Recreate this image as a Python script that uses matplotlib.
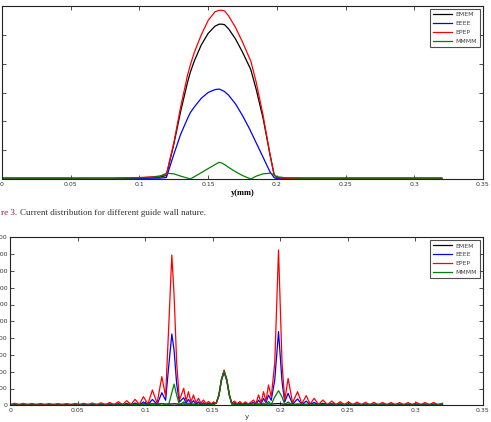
import matplotlib
matplotlib.use("Agg")
import matplotlib.pyplot as plt

# ---- painel de cima: distribuicao de corrente (y em mm)
top_y = [0.000, 0.020, 0.040, 0.060, 0.080, 0.100, 0.110, 0.115, 0.1196, 0.125,
         0.130, 0.135, 0.137, 0.140, 0.145, 0.150, 0.155, 0.158, 0.160, 0.162,
         0.165, 0.170, 0.175, 0.180, 0.181, 0.185, 0.190, 0.195, 0.198, 0.200,
         0.205, 0.210, 0.220, 0.240, 0.260, 0.280, 0.300, 0.320]
top_emem = [0.02, 0.02, 0.02, 0.02, 0.02, 0.03, 0.05, 0.07, 0.12, 1.2,
            2.35, 3.35, 3.7, 4.1, 4.65, 5.05, 5.3, 5.37, 5.37, 5.35,
            5.2, 4.85, 4.4, 3.9, 3.8, 3.1, 2.1, 0.85, 0.15, 0.04,
            0.03, 0.03, 0.03, 0.03, 0.03, 0.03, 0.03, 0.03]
top_eeee = [0.01, 0.01, 0.01, 0.01, 0.01, 0.02, 0.03, 0.03, 0.05, 0.85,
            1.55, 2.1, 2.3, 2.5, 2.8, 3.0, 3.1, 3.12, 3.08, 3.03,
            2.9, 2.6, 2.2, 1.75, 1.65, 1.25, 0.75, 0.25, 0.05, 0.01,
            0.01, 0.01, 0.01, 0.01, 0.01, 0.01, 0.01, 0.01]
top_epep = [0.035, 0.035, 0.035, 0.03, 0.03, 0.05, 0.08, 0.1, 0.15, 1.25,
            2.5, 3.6, 3.95, 4.4, 5.0, 5.5, 5.8, 5.85, 5.85, 5.83,
            5.65, 5.25, 4.75, 4.2, 4.1, 3.35, 2.2, 0.85, 0.15, 0.05,
            0.03, 0.02, 0.02, 0.02, 0.02, 0.02, 0.02, 0.02]
top_mmmm = [0.03, 0.03, 0.03, 0.03, 0.03, 0.04, 0.06, 0.1, 0.2, 0.18,
            0.1, 0.03, 0.0, 0.08, 0.22, 0.36, 0.5, 0.58, 0.55, 0.5,
            0.4, 0.25, 0.12, 0.02, 0.0, 0.1, 0.18, 0.2, 0.15, 0.08,
            0.05, 0.04, 0.03, 0.03, 0.03, 0.03, 0.03, 0.03]

# ---- painel de baixo: oscilacoes
bot_y = [0.0000, 0.0032, 0.0064, 0.0096, 0.0128, 0.0160, 0.0192, 0.0224, 0.0256, 0.0288,
         0.0320, 0.0352, 0.0384, 0.0416, 0.0448, 0.0480, 0.0512, 0.0544, 0.0576, 0.0608,
         0.0640, 0.0672, 0.0704, 0.0736, 0.0768, 0.0800,
         0.0832, 0.0862, 0.0893, 0.0924, 0.0955, 0.0986, 0.1019, 0.1052, 0.1087, 0.1122,
         0.1150, 0.1172,
         0.1196, 0.1213, 0.1232, 0.1252, 0.1284, 0.1302, 0.1319, 0.1338, 0.1356, 0.1375,
         0.1393, 0.1412, 0.1430, 0.1450, 0.1468, 0.1487, 0.1505, 0.1525, 0.1545, 0.1563,
         0.1583, 0.1603, 0.1622, 0.1640, 0.1660, 0.1680, 0.1700, 0.1720, 0.1740,
         0.1763, 0.1800, 0.1819, 0.1838, 0.1857, 0.1875, 0.1893, 0.1912, 0.1932, 0.1958,
         0.1986, 0.2012, 0.2032, 0.2057, 0.2090, 0.2127, 0.2159, 0.2191, 0.2220, 0.2250,
         0.2282, 0.2315, 0.2348, 0.2381, 0.2412, 0.2443, 0.2474, 0.2504,
         0.2536, 0.2567, 0.2599, 0.2630, 0.2662, 0.2693, 0.2725, 0.2756, 0.2788, 0.2819,
         0.2851, 0.2882, 0.2914, 0.2945, 0.2977, 0.3008, 0.3040, 0.3071, 0.3103, 0.3134,
         0.3166, 0.3200]
bot_emem = [12, 13, 12, 13, 12, 13, 12, 13, 12, 13, 12, 13, 12, 13, 12, 13, 12, 13, 12, 13,
            12, 13, 12, 13, 12, 14,
            12, 14, 12, 15, 12, 16, 12, 18, 13, 20, 14, 16,
            15, 18, 16, 12, 16, 12, 15, 12, 14, 12, 14, 12, 13, 12, 13, 12, 14, 25, 125, 305,
            410, 305, 125, 15, 13, 12, 13, 12, 13,
            12, 13, 12, 14, 12, 15, 12, 16, 13, 18, 20, 16, 12, 14, 12, 13, 12, 13, 12, 13,
            12, 13, 12, 13, 12, 13, 12, 13,
            12, 13, 12, 13, 12, 13, 12, 13, 12, 13, 12, 13, 12, 13, 12, 13, 12, 13, 12, 13,
            12, 12]
bot_eeee = [2, 9, 2, 8, 2, 8, 2, 7, 2, 7, 2, 7, 2, 8, 2, 8, 2, 9, 2, 10,
            3, 12, 3, 14, 3, 18,
            3, 22, 3, 28, 4, 40, 6, 70, 10, 150, 60, 450,
            849, 650, 250, 40, 90, 25, 70, 20, 55, 15, 40, 12, 30, 10, 25, 10, 22, 25, 115, 290,
            395, 290, 115, 20, 30, 10, 25, 10, 25,
            10, 35, 12, 60, 20, 80, 30, 120, 60, 300, 877, 280, 40, 143, 15, 75, 10, 50, 8, 35,
            6, 25, 5, 20, 5, 17, 5, 15,
            5, 14, 5, 13, 5, 13, 5, 12, 5, 12, 5, 12, 5, 12, 5, 12, 5, 12, 5, 12,
            5, 8]
bot_epep = [4, 24, 5, 23, 5, 22, 4, 21, 4, 20, 4, 20, 4, 21, 4, 22, 5, 24, 5, 27,
            6, 30, 7, 34, 8, 43,
            9, 55, 10, 71, 11, 103, 14, 182, 25, 341, 110, 900,
            1789, 1300, 500, 60, 202, 50, 162, 40, 123, 30, 83, 25, 63, 20, 45, 18, 38, 25, 120, 300,
            420, 300, 120, 25, 50, 18, 45, 15, 40,
            15, 63, 20, 124, 30, 162, 50, 242, 100, 500, 1849, 500, 60, 320, 30, 162, 20, 115, 15, 83,
            10, 63, 8, 51, 8, 43, 7, 42,
            7, 38, 7, 36, 6, 35, 6, 34, 6, 34, 6, 33, 6, 33, 6, 34, 6, 34, 6, 34,
            6, 25]
bot_mmmm = [1, 3, 1, 3, 1, 3, 1, 2, 1, 2, 1, 2, 1, 2, 1, 2, 1, 3, 1, 3,
            1, 3, 1, 4, 1, 5,
            1, 6, 1, 8, 2, 10, 2, 15, 3, 20, 8, 5,
            150, 253, 120, 5, 40, 5, 25, 3, 15, 3, 10, 3, 8, 3, 8, 3, 10, 25, 130, 310,
            400, 310, 130, 15, 10, 3, 8, 3, 8,
            3, 10, 3, 15, 3, 25, 5, 45, 10, 100, 174, 100, 10, 40, 3, 15, 2, 8, 2, 6,
            2, 5, 2, 4, 2, 4, 2, 4,
            2, 4, 2, 4, 2, 4, 2, 4, 2, 4, 2, 4, 2, 4, 2, 4, 2, 4, 2, 4,
            2, 3]

NOMES = ["EMEM", "EEEE", "EPEP", "MMMM"]
CORES = ["#000000", "#0000ff", "#ff0000", "#008000"]
X_TICKS = [0, 0.05, 0.1, 0.15, 0.2, 0.25, 0.3, 0.35]
X_LABELS = ["0", "0.05", "0.1", "0.15", "0.2", "0.25", "0.3", "0.35"]

W, H = 491, 422
fig = plt.figure(figsize=(W / 100, H / 100), dpi=100)
fig.patch.set_facecolor("white")


def estilo_matlab(ax, xmax, ymax, yticks):
    ax.set_xlim(0, xmax)
    ax.set_ylim(0, ymax)
    ax.set_xticks(X_TICKS)
    ax.set_xticklabels(X_LABELS)
    ax.set_yticks(yticks)
    ax.tick_params(direction="in", top=True, right=True, length=3, width=0.6,
                   labelsize=4.5, pad=2, colors="#333333")
    for s in ax.spines.values():
        s.set_linewidth(0.8)
        s.set_color("#222222")


def legenda(ax):
    leg = ax.legend(loc="upper right", fontsize=4.5, frameon=True, fancybox=False,
                    handlelength=3.0, borderpad=0.45, labelspacing=0.55,
                    handletextpad=0.6, borderaxespad=0.5)
    leg.get_frame().set_edgecolor("#222222")
    leg.get_frame().set_linewidth(0.8)
    for t in leg.get_texts():
        t.set_color("#444444")


# >>>> grafico de cima
ax1 = fig.add_axes([2 / W, 1 - 179 / H, 481 / W, 173 / H])
series_top = [top_emem, top_eeee, top_epep, top_mmmm]
for nome, cor, vals in zip(NOMES, CORES, series_top):
    ax1.plot(top_y, vals, color=cor, lw=0.9, label=nome)
estilo_matlab(ax1, 0.35, 6, [0, 1, 2, 3, 4, 5, 6])
ax1.set_xlabel("y(mm)", fontsize=6, fontweight="bold", family="Liberation Serif",
               labelpad=1.5)
legenda(ax1)

# legenda da figura (cortada a esquerda)
fig.text(1 / W, 1 - 215 / H, "re 3.", fontsize=6.5, family="Liberation Serif",
         color="#8b1c2c")
fig.text(20 / W, 1 - 215 / H, "Current distribution for different guide wall nature.",
         fontsize=6.5, family="Liberation Serif", color="#333333")

# >>>> grafico de baixo
ax2 = fig.add_axes([10.3 / W, 1 - 405.3 / H, 472.7 / W, 168 / H])
series_bot = [bot_emem, bot_eeee, bot_epep, bot_mmmm]
for nome, cor, vals in zip(NOMES, CORES, series_bot):
    ax2.plot(bot_y, vals, color=cor, lw=0.9, label=nome)
estilo_matlab(ax2, 0.35, 2000, list(range(0, 2001, 200)))
ax2.set_xlabel("y", fontsize=5, color="#333333", labelpad=1)
legenda(ax2)

plt.savefig("out.png", dpi=100)
plt.close()
